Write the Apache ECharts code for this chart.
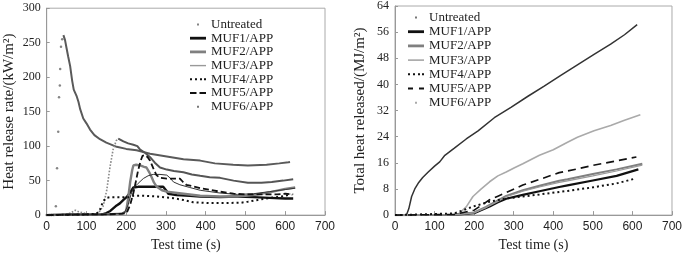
<!DOCTYPE html>
<html lang="en">
<head>
  <meta charset="UTF-8">
  <script src="https://cdn.jsdelivr.net/npm/echarts@6/dist/echarts.min.js"></script>
  <style>
    body { margin: 0; background: #fff; }
    #container { width: 685px; height: 257px; }
  </style>
</head>
<body>
  <div id="container"></div>
  <script>
    // time (s), value pairs
    var names = ['Untreated', 'MUF1/APP', 'MUF2/APP', 'MUF3/APP', 'MUF4/APP', 'MUF5/APP', 'MUF6/APP'];
    var timeTicks = [0, 100, 200, 300, 400, 500, 600, 700];

    // heat release rate, kW/m2
    var hrrUntreatedRise = [[0, 0], [6, 0], [12, 0], [18, 0], [23, 13], [26, 68], [29, 121], [31, 171], [33, 188], [34, 212], [36, 244], [39, 255]];
    var hrrUntreated = [[42, 261], [46, 254], [50, 242], [54, 230], [59, 216], [64, 195], [68, 182], [75, 173], [80, 164], [84, 154], [92, 140], [100, 133], [109, 124], [120, 116], [134, 110], [150, 105], [176, 99], [200, 96], [226, 94], [260, 89], [302, 85], [344, 81], [386, 79], [423, 75], [469, 73], [506, 72], [553, 73], [585, 75], [608, 76.5], [612, 77]];
    var hrrMuf1 = [[0, 0], [60, 1], [100, 1], [140, 1], [150, 3], [160, 6], [176, 14], [184, 17], [193, 22], [201, 26], [210, 33], [218, 40], [230, 41], [260, 41], [293, 41], [300, 36], [306, 31], [327, 29], [360, 28], [386, 27], [436, 26], [480, 27], [520, 26], [560, 25], [600, 24], [620, 24]];
    var hrrMuf2 = [[0, 0], [100, 1], [150, 1], [190, 2], [200, 6], [205, 25], [210, 48], [215, 65], [218, 72], [225, 73], [235, 72], [245, 70], [251, 69], [258, 62], [264, 55], [270, 47], [277, 41], [290, 36], [302, 34], [344, 31], [386, 28], [436, 27], [480, 27], [520, 29], [560, 33], [600, 38], [625, 40]];
    var hrrMuf3 = [[0, 0], [150, 1], [195, 3], [205, 15], [212, 30], [218, 39], [230, 46], [243, 53], [255, 57], [268, 59], [285, 59], [302, 58], [310, 54], [319, 48], [335, 44], [360, 40], [386, 36], [436, 32], [480, 30], [520, 31], [560, 34], [600, 37], [625, 39]];
    var hrrMuf4 = [[0, 0], [100, 1], [126, 2], [134, 8], [142, 20], [150, 25], [160, 26], [184, 26], [209, 26], [218, 28], [243, 28], [277, 27], [318, 24.5], [344, 22], [369, 18.5], [411, 17.5], [450, 17.5], [490, 18], [506, 19.5], [531, 22], [557, 24.5], [590, 27], [615, 30]];
    var hrrMuf5 = [[0, 0], [100, 1], [150, 1], [190, 2], [201, 3], [210, 15], [218, 32], [224, 48], [230, 65], [236, 78], [241, 86], [247, 87], [254, 84], [260, 79], [268, 68], [276, 58], [285, 54], [302, 53], [320, 53], [335, 53], [343, 48], [351, 44], [386, 39], [436, 34], [470, 31], [500, 30], [540, 30], [580, 30], [600, 31], [620, 30]];
    var hrrMuf6Rise = [[0, 0], [40, 0], [60, 3], [72, 7], [80, 5], [100, 2], [125, 2], [134, 6], [142, 13], [151, 36], [159, 69], [167, 95], [175, 108], [180, 111]];
    var hrrMuf6 = [[180, 111], [193, 107], [205, 104], [218, 102], [228, 100], [235, 95], [248, 90], [260, 84], [272, 76], [285, 69], [302, 66], [320, 64], [344, 62], [365, 59], [386, 57], [410, 55], [436, 54], [470, 50], [506, 47], [540, 47], [566, 48], [595, 50], [620, 52]];

    // total heat released, MJ/m2
    var thrUntreated = [[0, 0], [29, 0], [35, 2], [42, 5.7], [50, 8], [60, 10], [70, 11.5], [84, 13.2], [100, 15], [113, 16.3], [126, 18.3], [150, 20.5], [180, 23.3], [210, 25.8], [251, 29.8], [293, 33], [335, 36.3], [377, 39.5], [419, 42.8], [461, 46], [503, 49.2], [545, 52.3], [580, 55.2], [612, 58.3]];
    var thrMuf1 = [[0, 0], [150, 0.1], [200, 0.6], [239, 2.6], [260, 3.9], [281, 5], [323, 6.2], [365, 7.3], [415, 8.6], [436, 9.1], [500, 10.6], [560, 12], [615, 14]];
    var thrMuf2 = [[0, 0], [150, 0.1], [200, 0.8], [230, 2.5], [260, 4.5], [281, 5.9], [323, 7.6], [365, 9], [415, 10.5], [436, 11], [500, 12.6], [560, 14], [625, 15.7]];
    var thrMuf3 = [[0, 0], [150, 0.1], [200, 0.7], [230, 2.3], [260, 4.2], [281, 5.6], [323, 7.3], [365, 8.6], [415, 10], [436, 10.5], [500, 12], [560, 13.5], [625, 15.3]];
    var thrMuf4 = [[0, 0], [150, 0.5], [197, 2.6], [239, 4.1], [281, 5.1], [323, 5.7], [365, 6.3], [415, 7.1], [436, 7.4], [500, 8.5], [560, 9.7], [608, 11.2]];
    var thrMuf5 = [[0, 0], [150, 0.2], [200, 1.5], [239, 4.7], [260, 5.8], [281, 6.9], [323, 9.2], [365, 10.9], [415, 13], [436, 13.5], [500, 15.2], [560, 16.6], [610, 17.8]];
    var thrMuf6 = [[0, 0], [150, 0], [163, 0.6], [180, 2.5], [197, 5.7], [218, 8], [239, 10.2], [260, 12], [281, 13.2], [302, 14.5], [323, 15.7], [344, 17], [365, 18.3], [400, 20], [436, 22.3], [461, 23.8], [503, 25.8], [545, 27.4], [580, 29], [620, 30.7]];

    var chart = echarts.init(document.getElementById('container'));

    var serif = 'Liberation Serif';
    var sans = 'Liberation Sans';
    // legend icons drawn in a 16x10 box
    var icons = {
      dot: 'path://M0,0M16,10M7,4h2v2h-2z',
      thick: 'path://M0,0M16,10M0,3.6h16v2.8h-16z',
      thin: 'path://M0,0M16,10M0,4.3h16v1.4h-16z',
      dots: 'path://M0,0M16,10M0,4h2v2h-2zM5,4h2v2h-2zM10,4h2v2h-2zM14,4h2v2h-2z',
      dash: 'path://M0,0M16,10M0,4h6.5v2h-6.5zM9.5,4h6.5v2h-6.5z',
      dashWide: 'path://M0,0M16,10M0,4h5v2h-5zM11,4h5v2h-5z'
    };

    function xAxis(idx) {
      return {
        type: 'value', gridIndex: idx, min: 0, max: 700, interval: 100,
        name: 'Test time (s)', nameLocation: 'middle', nameGap: 21,
        nameTextStyle: { fontFamily: serif, fontSize: 14, color: '#222' },
        axisLine: { lineStyle: { color: '#999' } },
        axisTick: { inside: true, length: 4, lineStyle: { color: '#999' } },
        axisLabel: { fontFamily: sans, fontSize: 12, color: '#222', margin: 6 },
        splitLine: { show: false }
      };
    }
    function yAxis(idx, max, step, title, gap) {
      return {
        type: 'value', gridIndex: idx, min: 0, max: max, interval: step,
        name: title, nameLocation: 'middle', nameGap: gap,
        nameTextStyle: { fontFamily: serif, fontSize: 15, color: '#222' },
        axisLine: { show: true, lineStyle: { color: '#999' } },
        axisTick: { show: true, inside: true, length: 3, lineStyle: { color: '#999' } },
        axisLabel: { fontFamily: serif, fontSize: 12, color: '#222', margin: 6 },
        splitLine: { show: false }
      };
    }
    function line(name, data, idx, color, width, type) {
      return {
        name: name, type: 'line', xAxisIndex: idx, yAxisIndex: idx, data: data,
        symbol: 'none', smooth: false, silent: true,
        lineStyle: { color: color, width: width, type: type || 'solid' },
        itemStyle: { color: color }
      };
    }
    function legend(left, top, gap, colors, dashIcon) {
      var shapes = [icons.dot, icons.thick, icons.thick, icons.thin, icons.dots, dashIcon, icons.dot];
      return {
        orient: 'vertical', left: left, top: top, padding: 0,
        itemWidth: 16, itemHeight: 10, itemGap: gap,
        textStyle: { fontFamily: serif, fontSize: 13, color: '#222', lineHeight: 12 },
        data: names.map(function (n, i) {
          return { name: n, icon: shapes[i], itemStyle: { color: colors[i] } };
        }),
        selectedMode: false
      };
    }

    var option = {
      animation: false,
      grid: [
        { left: 46.7, top: 8.2, width: 278.3, height: 210.8, show: true, borderColor: '#aaa', borderWidth: 1 },
        { left: 395, top: 5.5, width: 278.3, height: 213.2, show: true, borderColor: '#aaa', borderWidth: 1 }
      ],
      legend: [
        legend(190, 18, 0.7, ['#666', '#111', '#808080', '#999', '#111', '#111', '#777'], icons.dash),
        legend(408, 11, 1.2, ['#555', '#111', '#808080', '#999', '#111', '#111', '#aaa'], icons.dashWide)
      ],
      xAxis: [xAxis(0), xAxis(1)],
      yAxis: [
        yAxis(0, 300, 50, 'Heat release rate/(kW/m\u00B2)', 30),
        yAxis(1, 64, 8, 'Total heat released/(MJ/m\u00B2)', 27)
      ],
      series: [
        {
          name: 'Untreated', type: 'scatter', xAxisIndex: 0, yAxisIndex: 0,
          data: hrrUntreatedRise, symbolSize: 2.5, silent: true,
          itemStyle: { color: '#666' }
        },
        line('Untreated', hrrUntreated, 0, '#5a5a5a', 2),
        line('MUF6/APP', hrrMuf6Rise, 0, '#888', 1.6, 'dotted'),
        line('MUF6/APP', hrrMuf6, 0, '#555', 2),
        line('MUF1/APP', hrrMuf1, 0, '#111', 2.4),
        line('MUF2/APP', hrrMuf2, 0, '#808080', 2.4),
        line('MUF3/APP', hrrMuf3, 0, '#333', 1),
        line('MUF4/APP', hrrMuf4, 0, '#111', 2, [2, 3]),
        line('MUF5/APP', hrrMuf5, 0, '#111', 1.8, [6, 3]),

        line('Untreated', thrUntreated, 1, '#333', 1.5),
        line('MUF6/APP', thrMuf6, 1, '#aaa', 1.6),
        line('MUF1/APP', thrMuf1, 1, '#111', 2.2),
        line('MUF2/APP', thrMuf2, 1, '#808080', 2),
        line('MUF3/APP', thrMuf3, 1, '#999', 1.2),
        line('MUF4/APP', thrMuf4, 1, '#111', 2, [2, 3]),
        line('MUF5/APP', thrMuf5, 1, '#111', 1.6, [8, 5])
      ]
    };

    chart.setOption(option);
  </script>
</body>
</html>
